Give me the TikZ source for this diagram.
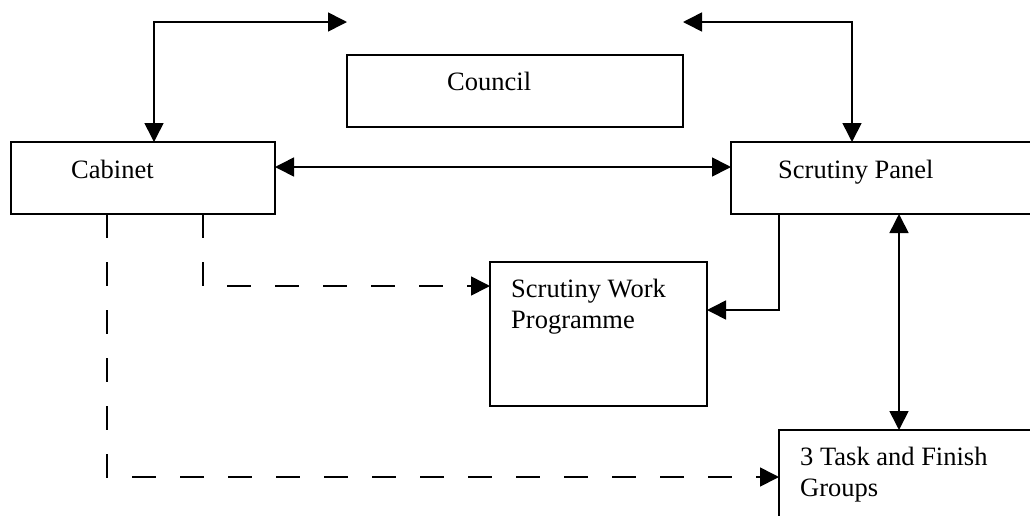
\documentclass[tikz,border=0pt]{standalone}
\usepackage{fontspec}
\setmainfont{Liberation Serif}
\usetikzlibrary{arrows.meta}
\begin{document}
\begin{tikzpicture}[x=1pt,y=-1pt,
  box/.style={draw, line width=2pt, rectangle, inner sep=0pt, outer sep=0pt, anchor=north west},
  lbl/.style={inner sep=0pt, anchor=base west, font=\fontsize{26.5}{31}\selectfont, align=left},
  conn/.style={line width=1.6pt, -{Triangle[length=19pt,width=19pt]}},
  both/.style={line width=1.6pt, {Triangle[length=19pt,width=19pt]}-{Triangle[length=19pt,width=19pt]}},
  dconn/.style={conn, dash pattern=on 24pt off 24pt}]
\useasboundingbox (0,0) rectangle (1030,515);
\clip (0,0) rectangle (1030,515);
% boxes
\node[box, minimum width=336pt, minimum height=72pt] (council) at (347,55) {};
\node[box, minimum width=264pt, minimum height=72pt] (cab) at (11,142) {};
\node[box, minimum width=314pt, minimum height=72pt] (pan) at (731,142) {};
\node[box, minimum width=217pt, minimum height=144pt] (swp) at (490,262) {};
\node[box, minimum width=266pt, minimum height=100pt] (task) at (779,430) {};
% texts (multi-line nodes: base = last line)
\node[lbl] (tcouncil) at (447,90.7) {Council};
\node[lbl] (tcab) at (71,178) {Cabinet};
\node[lbl] (tpan) at (778,178) {Scrutiny Panel};
\node[lbl] (tswp) at (511,328) {Scrutiny Work\\Programme};
\node[lbl] (ttask) at (800,496) {3 Task and Finish\\Groups};
% connectors
\coordinate (cl) at ([yshift=33pt]council.north west);
\coordinate (cr) at ([yshift=33pt]council.north east);
\draw[both] ([xshift=143pt]cab.north west) |- (cl);
\draw[both] ([xshift=121pt]pan.north west) |- (cr);
\draw[both] ([yshift=11pt]cab.east) -- ([yshift=11pt]pan.west);
\draw[conn] ([xshift=48pt]pan.south west) |- ([yshift=-48pt]swp.north east);
\draw[both] ([xshift=168pt]pan.south west) -- ([xshift=120pt]task.north west);
\draw[dconn] ([xshift=192pt]cab.south west) |- ([yshift=-24pt]swp.north west);
\draw[dconn] ([xshift=96pt]cab.south west) |- ([yshift=-47pt]task.north west);
\end{tikzpicture}
\end{document}
